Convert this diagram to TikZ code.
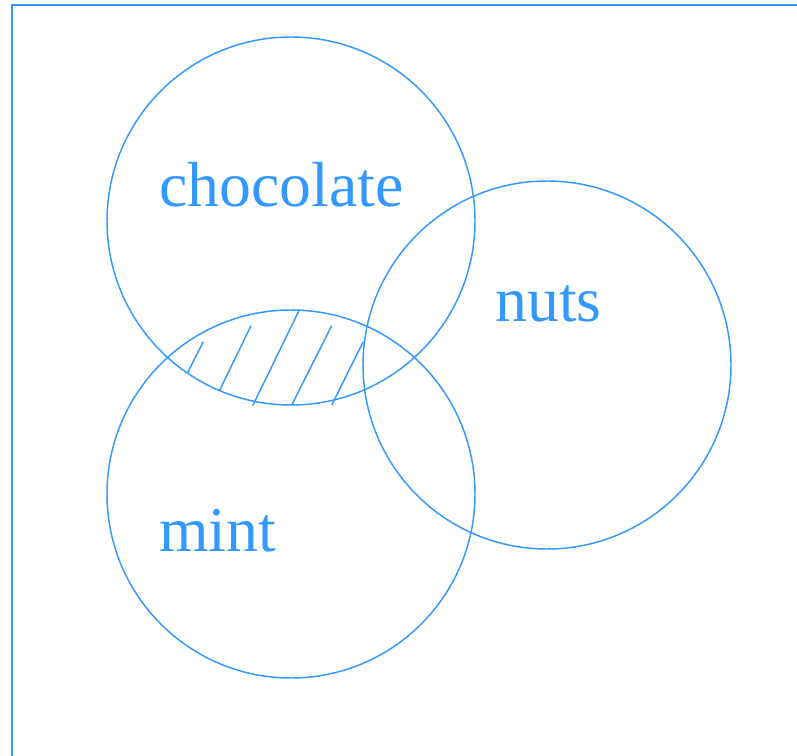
\documentclass[tikz,border=0pt]{standalone}
\usepackage{fontspec}
\setmainfont{Liberation Serif}
\definecolor{vblue}{RGB}{51,153,255}
\begin{document}
\begin{tikzpicture}[x=0.75pt,y=-0.75pt,
  setcircle/.style={draw=vblue,line width=1.1pt},
  framebox/.style={draw=vblue,color=vblue,line width=1.5pt},
  setlabel/.style={text=vblue,font=\fontsize{47.8}{50}\selectfont,anchor=base west,inner sep=0pt},
  hatchline/.style={draw=vblue,line width=1.1pt}]
\useasboundingbox (0,0) rectangle (797,756);
\draw[framebox] (11.5,5.5) rectangle (810,770);
\coordinate (cc) at (291,221);
\coordinate (cm) at (291,494);
\coordinate (cn) at (547,365);
\draw[hatchline] (187.3,373.3) -- (203.3,341.7);
\draw[hatchline] (219.3,391) -- (251,325.7);
\draw[hatchline] (252.7,405.7) -- (299.3,310);
\draw[hatchline] (291.7,405) -- (331.7,325.7);
\draw[hatchline] (331.7,405) -- (363.3,341.7);
\draw[setcircle] (cc) circle[radius=184];
\draw[setcircle] (cm) circle[radius=184];
\draw[setcircle] (cn) circle[radius=184];
\node[setlabel] (lc) at (159,207) {chocolate};
\node[setlabel] (ln) at (495,321) {nuts};
\node[setlabel] (lm) at (159,551) {mint};
\end{tikzpicture}
\end{document}
